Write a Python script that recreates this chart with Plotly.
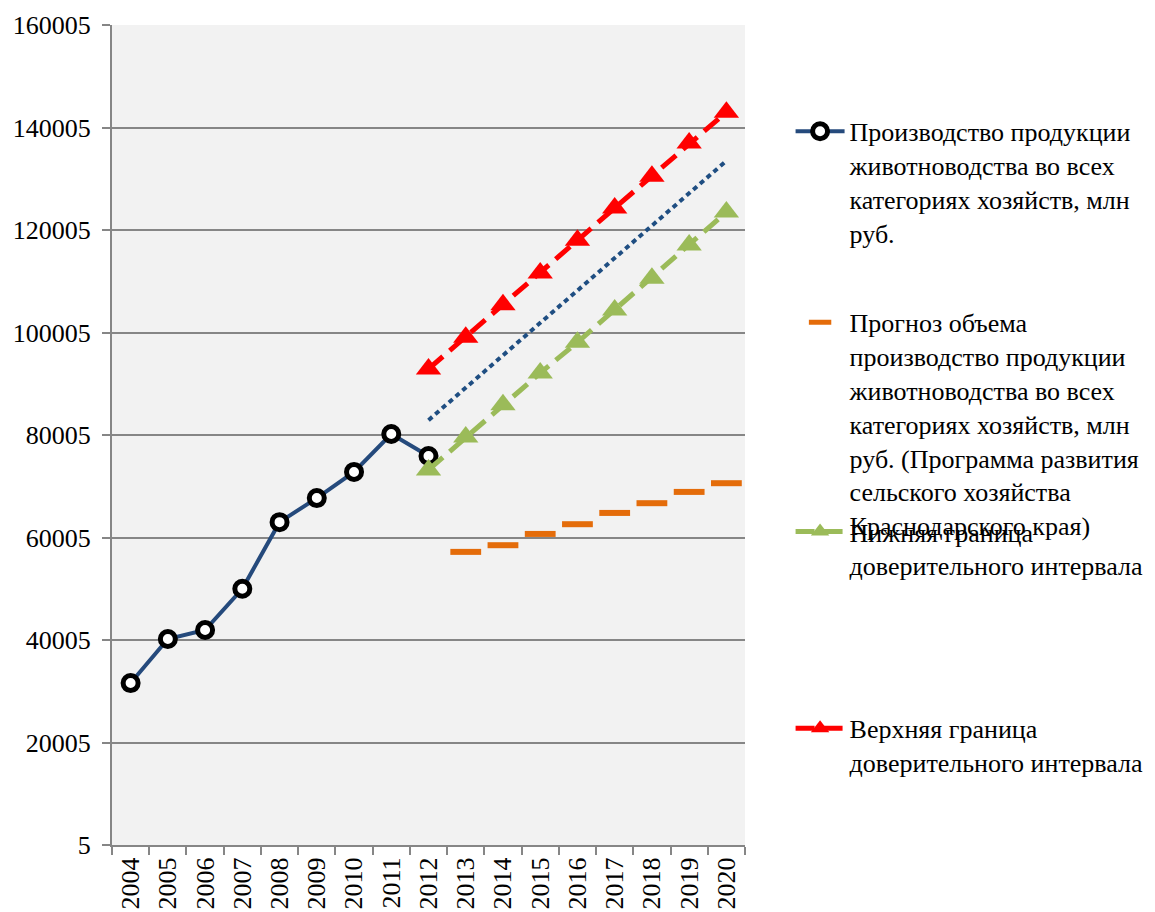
import plotly.graph_objects as go

years = [str(y) for y in range(2004, 2021)]

main_years = ["2004", "2005", "2006", "2007", "2008", "2009", "2010", "2011", "2012"]
main_vals = [31600, 40200, 41950, 50000, 63000, 67700, 72800, 80200, 75900]

prog_years = ["2013", "2014", "2015", "2016", "2017", "2018", "2019", "2020"]
prog_vals = [57200, 58500, 60700, 62600, 64800, 66700, 68900, 70600]

ci_years = ["2012", "2013", "2014", "2015", "2016", "2017", "2018", "2019", "2020"]
lower_vals = [73200, 79600, 85900, 92100, 98100, 104400, 110600, 117100, 123500]
upper_vals = [92900, 99100, 105400, 111600, 118000, 124300, 130500, 137000, 143000]

trend_years = ["2012", "2020"]
trend_vals = [82900, 133500]

y_ticks = [5, 20005, 40005, 60005, 80005, 100005, 120005, 140005, 160005]

names = [
    "Производство продукции<br>животноводства во всех<br>категориях хозяйств, млн<br>руб.",
    "Прогноз объема<br>производство продукции<br>животноводства во всех<br>категориях хозяйств, млн<br>руб. (Программа развития<br>сельского хозяйства<br>Краснодарского края)",
    "Нижняя граница<br>доверительного интервала",
    "Верхняя граница<br>доверительного интервала",
]

FONT = "Liberation Serif"
fig = go.Figure()

fig.add_trace(go.Scatter(
    x=main_years, y=main_vals, name=names[0], mode="lines+markers",
    line=dict(color="#254a7c", width=4),
    marker=dict(symbol="circle", size=15, color="white", line=dict(color="black", width=5)),
    legend="legend",
))
fig.add_trace(go.Scatter(
    x=prog_years, y=prog_vals, name=names[1], mode="markers",
    marker=dict(symbol="line-ew", size=22, color="#e46c0a", line=dict(color="#e46c0a", width=6)),
    legend="legend2",
))
fig.add_trace(go.Scatter(
    x=ci_years, y=lower_vals, name=names[2], mode="lines+markers",
    line=dict(color="#9bbb59", width=5, dash="19px,9px"),
    marker=dict(symbol="triangle-up", size=22, color="#9bbb59"),
    legend="legend3",
))
fig.add_trace(go.Scatter(
    x=ci_years, y=upper_vals, name=names[3], mode="lines+markers",
    line=dict(color="#ff0000", width=5, dash="19px,9px"),
    marker=dict(symbol="triangle-up", size=22, color="#ff0000"),
    legend="legend4",
))
fig.add_trace(go.Scatter(
    x=trend_years, y=trend_vals, mode="lines", showlegend=False,
    line=dict(color="#1f4e82", width=4, dash="5px,4px"),
    hoverinfo="skip",
))

def leg(y):
    return dict(x=1.072, y=y, xanchor="left", yanchor="top", valign="top",
                bgcolor="rgba(0,0,0,0)", font=dict(family=FONT, size=26, color="black"),
                itemwidth=49, tracegroupgap=0)

fig.update_layout(
    width=1155, height=912,
    margin=dict(l=104, r=418, t=17, b=75, autoexpand=False),
    paper_bgcolor="white", plot_bgcolor="#f2f2f2",
    font=dict(family=FONT, size=26, color="black"),
    legend=leg(0.899),
    legend2=leg(0.666),
    legend3=leg(0.411),
    legend4=leg(0.171),
    xaxis=dict(
        type="category", categoryorder="array", categoryarray=years,
        range=[-0.5, 16.5], tickangle=-90, tickson="boundaries",
        ticks="outside", ticklen=8, tickcolor="#868686", tickwidth=2,
        showline=True, linecolor="#868686", linewidth=2, automargin=False,
        showgrid=False, tickfont=dict(family=FONT, size=26, color="black"),
    ),
    yaxis=dict(
        range=[5, 160005], tickvals=y_ticks, ticktext=[str(v) for v in y_ticks],
        ticks="outside", ticklen=8, tickcolor="#868686", tickwidth=2,
        showline=True, linecolor="#868686", linewidth=2, automargin=False,
        ticklabelstandoff=6,
        showgrid=True, gridcolor="#868686", gridwidth=2, zeroline=False,
        tickfont=dict(family=FONT, size=26, color="black"),
    ),
)

fig.write_html("out.html")
